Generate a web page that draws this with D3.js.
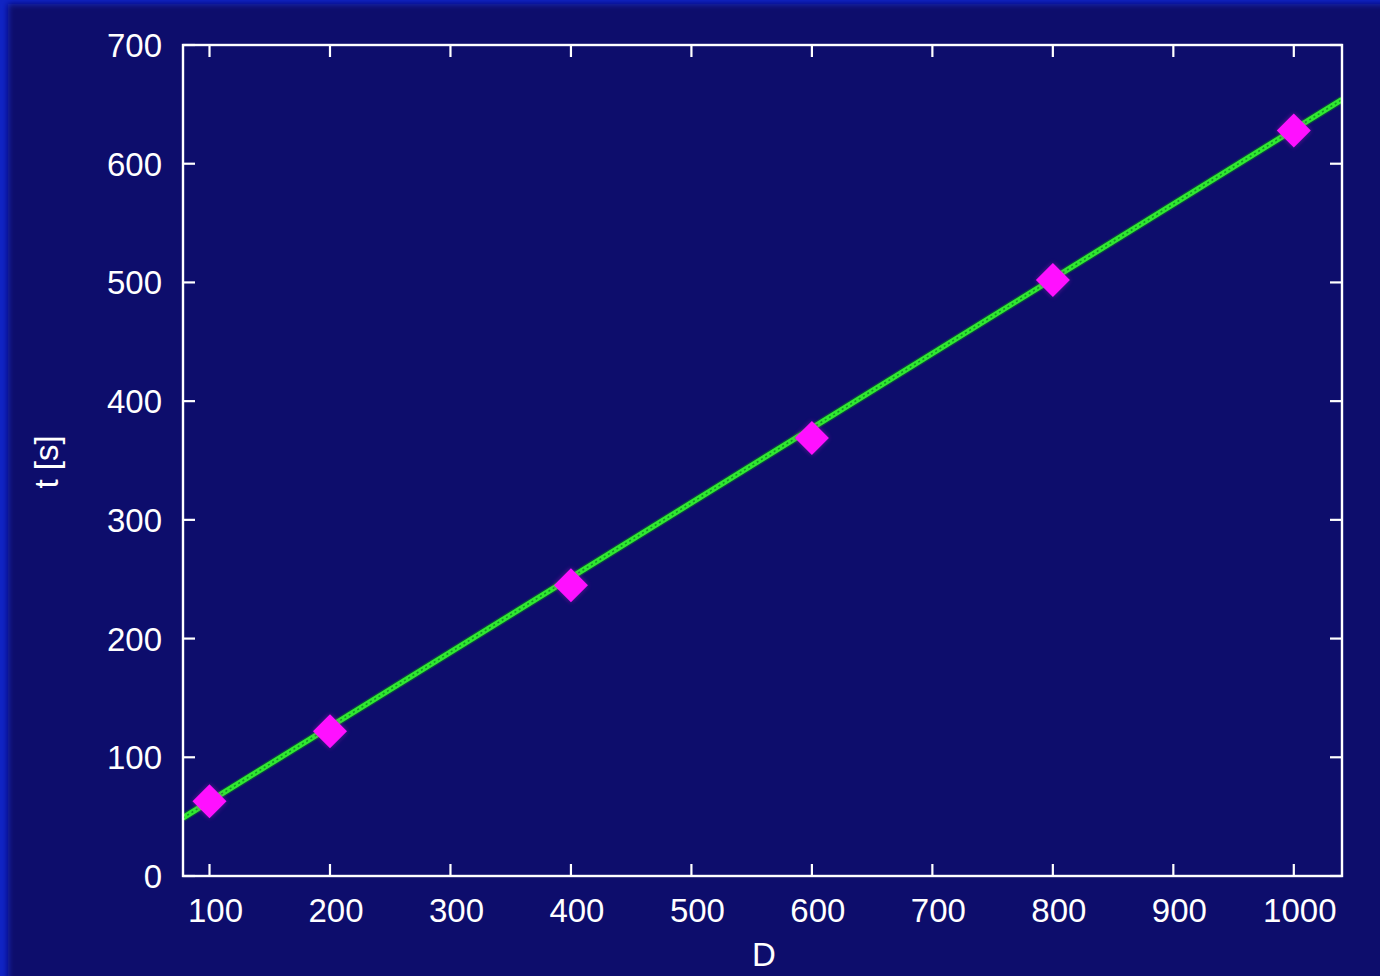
<!DOCTYPE html>
<html><head><meta charset="utf-8">
<script src="https://cdn.jsdelivr.net/npm/d3@7"></script>
<style>html,body{margin:0;padding:0;background:#080b6c;overflow:hidden}</style>
</head><body>
<script>
const dValues = [100, 200, 400, 600, 800, 1000];
const tValues = [63, 122, 245, 369, 502, 628];
const fitD = [78, 1040];
const fitT = [49, 654];
const xTicks = [100, 200, 300, 400, 500, 600, 700, 800, 900, 1000];
const yTicks = [0, 100, 200, 300, 400, 500, 600, 700];

const W = 1380, H = 976;
const m = {left: 183, right: 1342, top: 45, bottom: 876};
const svg = d3.select("body").append("svg").attr("width", W).attr("height", H);
const defs = svg.append("defs");
const f = defs.append("filter").attr("id","blur").attr("x","-10%").attr("y","-10%").attr("width","120%").attr("height","120%");
f.append("feGaussianBlur").attr("stdDeviation", 3);
const g2 = defs.append("filter").attr("id","glow").attr("x","-50%").attr("y","-50%").attr("width","200%").attr("height","200%");
g2.append("feGaussianBlur").attr("stdDeviation", 2.5);

svg.append("rect").attr("width", W).attr("height", H).attr("fill", "#1024c4");
svg.append("rect").attr("x", 8).attr("y", 4).attr("width", W + 20).attr("height", H + 20)
  .attr("fill", "#080b6c").attr("filter", "url(#blur)");

const x = d3.scaleLinear().domain([78, 1040]).range([m.left, m.right]);
const y = d3.scaleLinear().domain([0, 700]).range([m.bottom, m.top]);

const font = "'Liberation Sans', Arial, sans-serif";
const tick = 12;
const ax = svg.append("g").attr("stroke", "#ffffff").attr("stroke-width", 2.2);

// Ticks (inward, all four sides)
xTicks.forEach(v => {
  ax.append("line").attr("x1", x(v)).attr("x2", x(v)).attr("y1", m.bottom).attr("y2", m.bottom - tick);
  ax.append("line").attr("x1", x(v)).attr("x2", x(v)).attr("y1", m.top).attr("y2", m.top + tick);
});
yTicks.forEach(v => {
  ax.append("line").attr("y1", y(v)).attr("y2", y(v)).attr("x1", m.left).attr("x2", m.left + tick);
  ax.append("line").attr("y1", y(v)).attr("y2", y(v)).attr("x1", m.right).attr("x2", m.right - tick);
});

// Fit line
const clip = defs.append("clipPath").attr("id","clip");
clip.append("rect").attr("x", m.left).attr("y", m.top).attr("width", m.right - m.left).attr("height", m.bottom - m.top);
const line = d3.line().x(d => x(d[0])).y(d => y(d[1]));
const fit = fitD.map((d, i) => [d, fitT[i]]);
const lg = svg.append("g").attr("clip-path", "url(#clip)");
lg.append("path").datum(fit).attr("d", line).attr("stroke", "#0a6a2a").attr("stroke-width", 8).attr("fill", "none").attr("opacity", 0.6);
lg.append("path").datum(fit).attr("d", line).attr("stroke", "#30e830").attr("stroke-width", 5.5).attr("fill", "none");
lg.append("path").datum(fit).attr("d", line).attr("stroke", "#119a22").attr("stroke-width", 1.6)
  .attr("stroke-dasharray", "2 3").attr("fill", "none");

// Points
const pts = dValues.map((d, i) => [d, tValues[i]]);
const s = 17;
const diamond = `M0,${-s}L${s},0L0,${s}L${-s},0Z`;
svg.append("g").selectAll("path.glow").data(pts).join("path")
  .attr("transform", d => `translate(${x(d[0])},${y(d[1])})`).attr("d", diamond)
  .attr("fill", "#c020c0").attr("opacity", 0.5).attr("filter", "url(#glow)");
svg.append("g").selectAll("path.pt").data(pts).join("path")
  .attr("transform", d => `translate(${x(d[0])},${y(d[1])})`).attr("d", diamond)
  .attr("fill", "#ff10ff");

// Frame
svg.append("rect").attr("x", m.left).attr("y", m.top).attr("width", m.right - m.left).attr("height", m.bottom - m.top)
  .attr("fill", "none").attr("stroke", "#ffffff").attr("stroke-width", 2.4);

// Labels
const tl = svg.append("g").attr("fill", "#ffffff").attr("font-family", font).attr("font-size", 33);
xTicks.forEach(v => {
  tl.append("text").attr("x", x(v) + 6).attr("y", 922).attr("text-anchor", "middle").text(v);
});
yTicks.forEach(v => {
  tl.append("text").attr("x", 162).attr("y", y(v) + 12).attr("text-anchor", "end").text(v);
});
tl.append("text").attr("x", 764).attr("y", 966).attr("text-anchor", "middle").text("D");
tl.append("text").attr("transform", "translate(58,462) rotate(-90)").attr("text-anchor", "middle").text("t [s]");
</script>
</body></html>
